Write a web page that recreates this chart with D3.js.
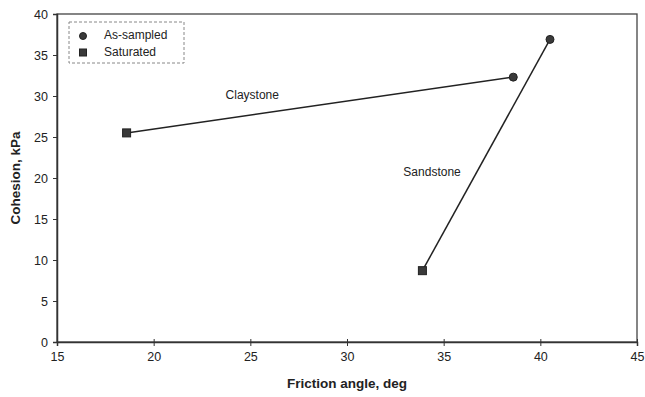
<!DOCTYPE html>
<html>
<head>
<meta charset="utf-8">
<script src="https://cdn.jsdelivr.net/npm/d3@7"></script>
<style>
  body { margin: 0; background: #fff; }
  svg text { font-family: "Liberation Sans", Arial, sans-serif; }
</style>
</head>
<body>
<script>
// data
const rocks = ["Claystone", "Sandstone"];
const sampledPhi = [38.6, 40.5];
const sampledC = [32.3, 36.9];
const saturatedPhi = [18.6, 33.9];
const saturatedC = [25.5, 8.7];
const xTicks = [15, 20, 25, 30, 35, 40, 45];
const yTicks = [0, 5, 10, 15, 20, 25, 30, 35, 40];
const labelPos = [[25.1, 29.6], [34.4, 20.3]]; // where the rock names sit

const w = 645;
const h = 397;
const padL = 57, padR = 637, padT = 14, padB = 342;

const xScale = d3.scaleLinear().domain([15, 45]).range([padL, padR]);
const yScale = d3.scaleLinear().domain([0, 40]).range([padB, padT]);

const svg = d3.select("body").append("svg").attr("width", w).attr("height", h);

// frame
svg.append("rect")
  .attr("x", padL).attr("y", padT)
  .attr("width", padR - padL).attr("height", padB - padT)
  .attr("fill", "none").attr("stroke", "#444").attr("stroke-width", 1.3);

const xAxis = d3.axisBottom(xScale).tickValues(xTicks).tickSize(4).tickPadding(6);
const yAxis = d3.axisLeft(yScale).tickValues(yTicks).tickSize(4).tickPadding(5);

const gx = svg.append("g")
  .attr("transform", "translate(0," + padB + ")")
  .call(xAxis);
gx.selectAll(".tick line").attr("y1", -3);
const gy = svg.append("g")
  .attr("transform", "translate(" + padL + ",0)")
  .call(yAxis);
[gx, gy].forEach(function (g) {
  g.select(".domain").attr("stroke", "#333").attr("stroke-width", 1.5);
  g.selectAll(".tick line").attr("stroke", "#333");
  g.selectAll(".tick text").attr("font-size", 12.5).attr("fill", "#222")
    .attr("font-family", "Liberation Sans, Arial, sans-serif");
});

// axis titles
svg.append("text")
  .attr("x", (padL + padR) / 2).attr("y", 388)
  .attr("text-anchor", "middle")
  .attr("font-size", 13.5).attr("font-weight", "bold").attr("fill", "#222")
  .text("Friction angle, deg");
svg.append("text")
  .attr("transform", "translate(20," + (padT + padB) / 2 + ") rotate(-90)")
  .attr("text-anchor", "middle")
  .attr("font-size", 13.5).attr("font-weight", "bold").attr("fill", "#222")
  .text("Cohesion, kPa");

// lines joining saturated and as-sampled
svg.selectAll("line.link")
  .data(rocks)
  .enter()
  .append("line")
  .attr("class", "link")
  .attr("x1", (d, i) => xScale(saturatedPhi[i]))
  .attr("y1", (d, i) => yScale(saturatedC[i]))
  .attr("x2", (d, i) => xScale(sampledPhi[i]))
  .attr("y2", (d, i) => yScale(sampledC[i]))
  .attr("stroke", "#222").attr("stroke-width", 1.5);

svg.selectAll("circle.sampled")
  .data(rocks)
  .enter()
  .append("circle")
  .attr("class", "sampled")
  .attr("cx", (d, i) => xScale(sampledPhi[i]))
  .attr("cy", (d, i) => yScale(sampledC[i]))
  .attr("r", 4)
  .attr("fill", "#3a3a3a").attr("stroke", "#222");

svg.selectAll("rect.saturated")
  .data(rocks)
  .enter()
  .append("rect")
  .attr("class", "saturated")
  .attr("x", (d, i) => xScale(saturatedPhi[i]) - 4)
  .attr("y", (d, i) => yScale(saturatedC[i]) - 4)
  .attr("width", 8).attr("height", 8)
  .attr("fill", "#3a3a3a").attr("stroke", "#222");

svg.selectAll("text.rock")
  .data(rocks)
  .enter()
  .append("text")
  .attr("class", "rock")
  .attr("x", (d, i) => xScale(labelPos[i][0]))
  .attr("y", (d, i) => yScale(labelPos[i][1]))
  .attr("text-anchor", "middle")
  .attr("font-size", 12).attr("fill", "#222")
  .text(d => d);

// legend
const legend = svg.append("g");
legend.append("rect")
  .attr("x", 69).attr("y", 22).attr("width", 115).attr("height", 41)
  .attr("fill", "#fff").attr("stroke", "#888").attr("stroke-dasharray", "3,2");
legend.append("circle").attr("cx", 83).attr("cy", 36).attr("r", 3.5)
  .attr("fill", "#3a3a3a").attr("stroke", "#222");
legend.append("rect").attr("x", 79.5).attr("y", 49).attr("width", 7).attr("height", 7)
  .attr("fill", "#3a3a3a").attr("stroke", "#222");
legend.append("text").attr("x", 104).attr("y", 39)
  .attr("font-size", 12).attr("fill", "#222").text("As-sampled");
legend.append("text").attr("x", 104).attr("y", 56)
  .attr("font-size", 12).attr("fill", "#222").text("Saturated");
</script>
</body>
</html>
